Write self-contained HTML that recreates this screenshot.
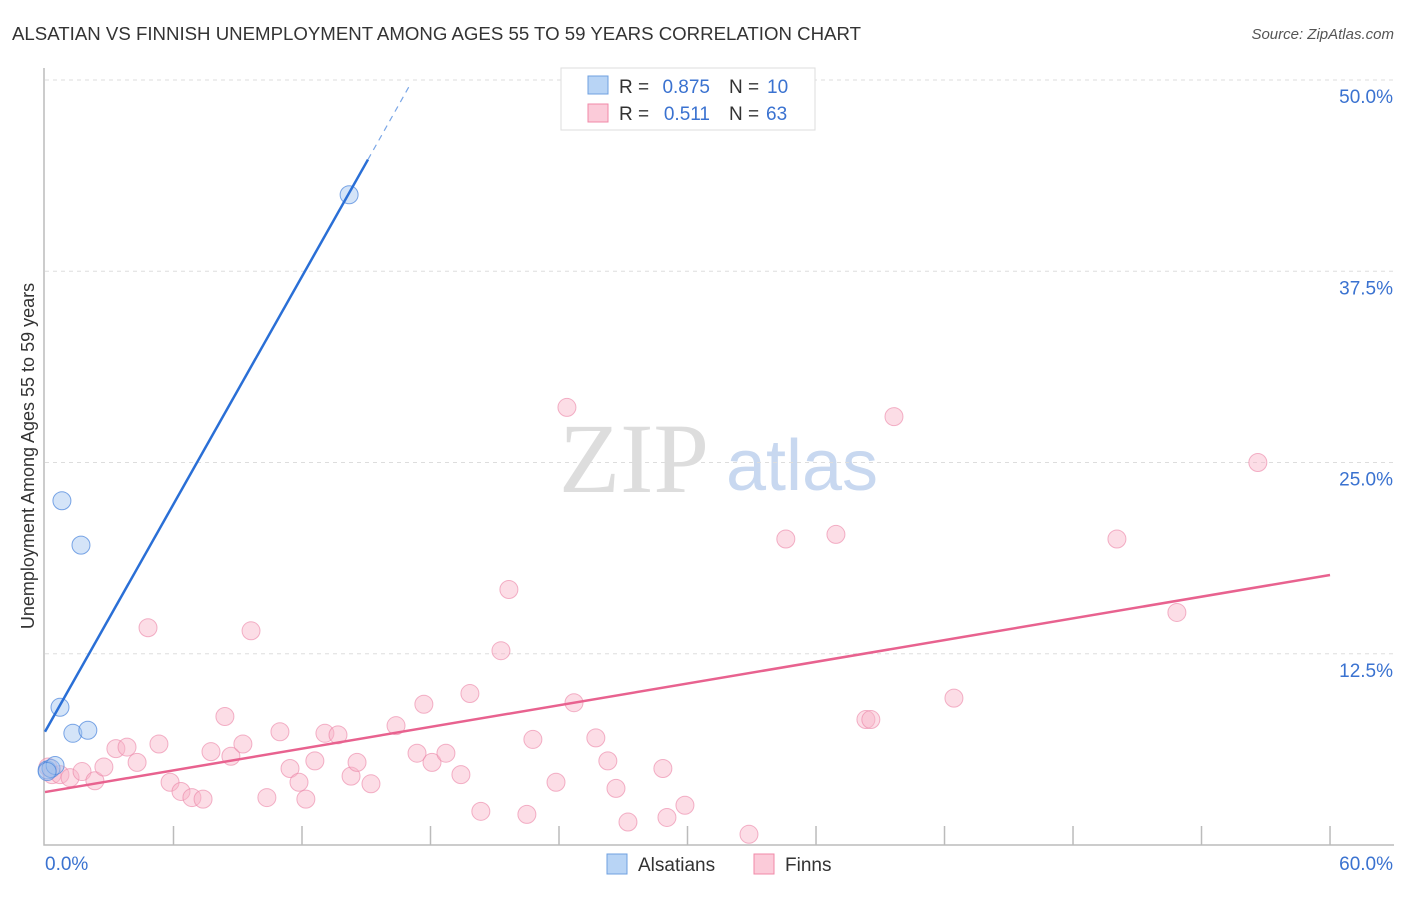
<!DOCTYPE html>
<html><head><meta charset="utf-8"><style>
body{margin:0;background:#fff;font-family:"Liberation Sans",sans-serif}
svg text{font-family:"Liberation Sans",sans-serif}
</style></head><body>
<svg id="c" width="1406" height="892">
<text x="12" y="40" font-size="18" fill="#333" textLength="849" lengthAdjust="spacingAndGlyphs">ALSATIAN VS FINNISH UNEMPLOYMENT AMONG AGES 55 TO 59 YEARS CORRELATION CHART</text>
<text x="1394" y="39" font-size="15" fill="#555" text-anchor="end" font-style="italic">Source: ZipAtlas.com</text>
<text x="34" y="456" font-size="18" fill="#333" text-anchor="middle" transform="rotate(-90 34 456)">Unemployment Among Ages 55 to 59 years</text>
<text x="634" y="492" font-size="100" fill="#ddd" text-anchor="middle" style="font-family:'Liberation Serif',serif">ZIP</text>
<text x="802" y="490" font-size="72" fill="#c8d8f0" text-anchor="middle">atlas</text>
<g id="grid"></g><g id="marks"></g>
<g>
<rect x="561" y="68" width="254" height="62" fill="#fff" stroke="#ddd"/>
<rect x="588" y="76" width="20" height="18" fill="#b8d4f5" stroke="#6fa0e0"/>
<text x="619" y="93" font-size="19" fill="#333">R =</text>
<text x="710" y="93" font-size="19" fill="#3a72d0" text-anchor="end">0.875</text>
<text x="729" y="93" font-size="19" fill="#333">N =</text>
<text x="767" y="93" font-size="19" fill="#3a72d0">10</text>
<rect x="588" y="104" width="20" height="18" fill="#fbcbd9" stroke="#f08aa8"/>
<text x="619" y="120" font-size="19" fill="#333">R =</text>
<text x="710" y="120" font-size="19" fill="#3a72d0" text-anchor="end">0.511</text>
<text x="729" y="120" font-size="19" fill="#333">N =</text>
<text x="766" y="120" font-size="19" fill="#3a72d0">63</text>
</g>
<g>
<rect x="607" y="854" width="20" height="20" fill="#b8d4f5" stroke="#6fa0e0"/>
<text x="638" y="871" font-size="19" fill="#333">Alsatians</text>
<rect x="754" y="854" width="20" height="20" fill="#fbcbd9" stroke="#f08aa8"/>
<text x="785" y="871" font-size="19" fill="#333">Finns</text>
</g>
</svg>
<script>
const yTicks=[12.5,25,37.5,50];
const yTickLabels=["12.5%","25.0%","37.5%","50.0%"];
const xTicks=[6,12,18,24,30,36,42,48,54,60];
const alsX=[0.1,0.28,0.47,0.7,0.79,1.3,1.68,2.0,14.2,0.1];
const alsY=[4.9,5.0,5.2,9.0,22.5,7.3,19.6,7.5,42.5,4.8];
const finX=[0.14,0.33,0.7,1.17,1.73,2.33,2.75,3.31,3.83,4.3,4.81,5.32,5.84,6.35,6.86,7.38,7.75,8.4,8.68,9.24,9.62,10.36,10.97,11.44,11.86,12.18,12.6,13.07,13.68,14.29,14.57,15.22,16.39,17.37,17.69,18.07,18.72,19.42,19.84,20.35,21.29,21.66,22.5,22.78,23.86,24.37,24.7,25.72,26.28,26.66,27.22,28.85,29.04,29.88,32.87,34.59,36.93,38.33,38.56,39.64,42.44,50.05,52.85,56.63];
const finY=[5.1,4.6,4.6,4.4,4.8,4.2,5.1,6.3,6.4,5.4,14.2,6.6,4.1,3.5,3.1,3.0,6.1,8.4,5.8,6.6,14.0,3.1,7.4,5.0,4.1,3.0,5.5,7.3,7.2,4.5,5.4,4.0,7.8,6.0,9.2,5.4,6.0,4.6,9.9,2.2,12.7,16.7,2.0,6.9,4.1,28.6,9.3,7.0,5.5,3.7,1.5,5.0,1.8,2.6,0.7,20.0,20.3,8.2,8.2,28.0,9.6,20.0,15.2,25.0];
const alsLine=[[0,7.4],[15.08,44.8]];
const alsDash=[[15.08,44.8],[17.05,49.7]];
const finLine=[[0,3.46],[60,17.65]];
const X=v=>45+v*21.417, Y=v=>845-v*15.3;
const NS="http://www.w3.org/2000/svg";
const grid=document.getElementById('grid'), marks=document.getElementById('marks');
function mk(tag,at,par){const e=document.createElementNS(NS,tag);for(const k in at)e.setAttribute(k,at[k]);par.appendChild(e);return e;}
yTicks.forEach((t,i)=>{
 const l=mk('line',{x1:45,x2:1394,y1:Y(t),y2:Y(t),stroke:'#ddd','stroke-dasharray':'4 4'},grid);
 
 
 const tx=mk('text',{x:1393,y:Y(t)+23,'font-size':19,fill:'#3a72d0','text-anchor':'end'},grid);
 tx.textContent=yTickLabels[i];
 
 
});
const ax=mk('path',{d:'M44 68V845H1394',stroke:'#bbb',fill:'none','stroke-width':1.5},grid);


xTicks.forEach(t=>{const l=mk('line',{x1:X(t),x2:X(t),y1:826,y2:845,stroke:'#bbb','stroke-width':1.5},grid);
 
 });
const x0=mk('text',{x:45,y:870,'font-size':19,fill:'#3a72d0'},grid);x0.textContent='0.0%';


const x1=mk('text',{x:1393,y:870,'font-size':19,fill:'#3a72d0','text-anchor':'end'},grid);x1.textContent='60.0%';


finX.forEach((v,i)=>{const c=mk('circle',{cx:X(v),cy:Y(finY[i]),r:9,fill:'rgba(248,180,200,0.45)',stroke:'rgba(235,130,165,0.6)'},marks);
 
 });
alsX.forEach((v,i)=>{const c=mk('circle',{cx:X(v),cy:Y(alsY[i]),r:9,fill:'rgba(160,195,240,0.45)',stroke:'rgba(70,130,220,0.7)'},marks);
 
 });
const fl=mk('line',{x1:X(finLine[0][0]),y1:Y(finLine[0][1]),x2:X(finLine[1][0]),y2:Y(finLine[1][1]),stroke:'#e8628f','stroke-width':2.5},marks);


const al=mk('line',{x1:X(alsLine[0][0]),y1:Y(alsLine[0][1]),x2:X(alsLine[1][0]),y2:Y(alsLine[1][1]),stroke:'#2a6fd6','stroke-width':2.5},marks);


const ad=mk('line',{x1:X(alsDash[0][0]),y1:Y(alsDash[0][1]),x2:X(alsDash[1][0]),y2:Y(alsDash[1][1]),stroke:'#7aa6e6','stroke-width':1.2,'stroke-dasharray':'6 5'},marks);


</script>
</body></html>
